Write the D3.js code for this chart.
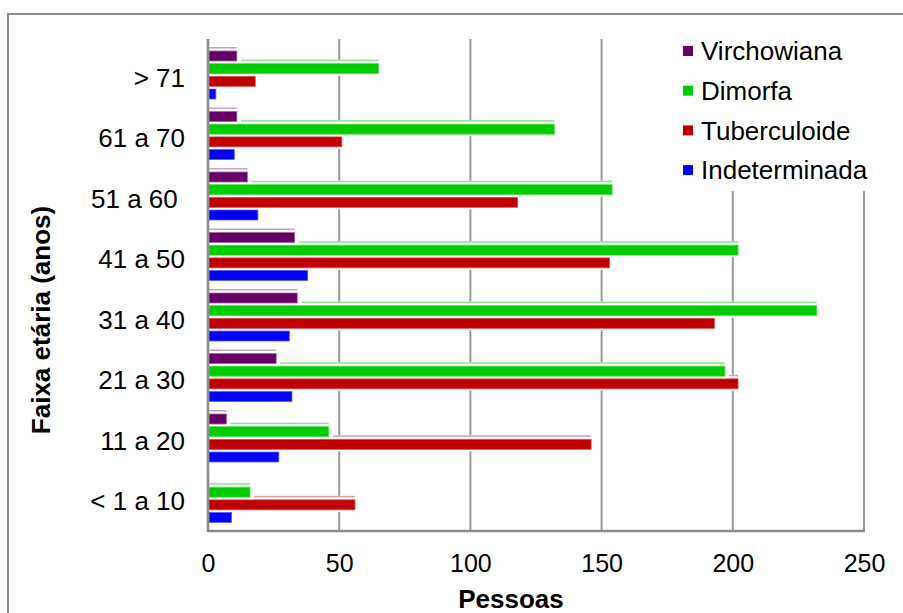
<!DOCTYPE html>
<html>
<head>
<meta charset="utf-8">
<script src="https://cdn.jsdelivr.net/npm/d3@7"></script>
<style>
  html, body { margin: 0; padding: 0; background: #fff; }
  svg { display: block; font-family: "Liberation Sans", Arial, sans-serif; }
</style>
</head>
<body>
<svg id="chart" width="903" height="613"></svg>
<script>
// Age groups, top to bottom
const categories = ["> 71", "61 a 70", "51 a 60\u00a0", "41 a 50", "31 a 40", "21 a 30", "11 a 20", "< 1 a 10"];
// Clinical forms (legend order)
const seriesNames = ["Virchowiana", "Dimorfa", "Tuberculoide", "Indeterminada"];
// Number of people per age group
const virchowiana   = [11, 11, 15, 33, 34, 26, 7, 0];
const dimorfa       = [65, 132, 154, 202, 232, 197, 46, 16];
const tuberculoide  = [18, 51, 118, 153, 193, 202, 146, 56];
const indeterminada = [3, 10, 19, 38, 31, 32, 27, 9];
const xTicks = [0, 50, 100, 150, 200, 250];

const seriesValues = [virchowiana, dimorfa, tuberculoide, indeterminada];
const faceColors = ["#660066", "#00cc00", "#c00000", "#0000ff"];
const edgeColors = ["#9a6a9a", "#55dd55", "#d65050", "#5a5aff"];
const topColors  = ["#c4a4c4", "#8fe08f", "#e09a9a", "#9a9aff"];

const svg = d3.select("#chart");

const plot = { left: 208, right: 864, top: 39, bottom: 531 };
const x = d3.scaleLinear().domain([0, 250]).range([plot.left, plot.right]);
const y = d3.scaleBand().domain(categories).range([45, 529]);
const ySub = d3.scaleBand().domain(seriesNames).range([6, 54]).paddingInner(0.21);
const color = d3.scaleOrdinal().domain(seriesNames).range(faceColors);

// Outer frame
svg.append("rect")
  .attr("x", 8).attr("y", 14).attr("width", 1000).attr("height", 1000)
  .attr("fill", "none").attr("stroke", "#8c8c8c").attr("stroke-width", 2);

// Vertical gridlines (the last one closes the plot on the right)
svg.append("g").selectAll("line")
  .data(xTicks.slice(1))
  .join("line")
  .attr("x1", d => x(d)).attr("x2", d => x(d))
  .attr("y1", plot.top).attr("y2", plot.bottom)
  .attr("stroke", "#9a9a9a").attr("stroke-width", 2);

// Bars: lower bars first so each upper bar's box hides the
// top edge of the bar below it
const rows = [];
categories.forEach((c, i) => {
  seriesNames.forEach((name, s) => {
    rows.push({ cat: c, series: name, s, value: seriesValues[s][i] });
  });
});
rows.sort((a, b) => categories.indexOf(b.cat) - categories.indexOf(a.cat) || b.s - a.s);

const bars = svg.append("g").selectAll("g")
  .data(rows.filter(d => d.value > 0))
  .join("g")
  .attr("transform", d => `translate(0,${y(d.cat) + ySub(d.series)})`);

const bw = ySub.bandwidth();

// white depth box behind each bar
bars.append("rect")
  .attr("x", x(0) + 1)
  .attr("y", -4)
  .attr("width", d => x(d.value) - x(0) + 3)
  .attr("height", bw + 6)
  .attr("fill", "#fff");

// light top edge
bars.append("rect")
  .attr("x", x(0) + 1)
  .attr("y", -4)
  .attr("width", d => x(d.value) - x(0) - 1)
  .attr("height", 1.5)
  .attr("fill", d => topColors[d.s]);

// front face
bars.append("rect")
  .attr("x", x(0) + 1)
  .attr("y", 0)
  .attr("width", d => x(d.value) - x(0) - 1)
  .attr("height", bw)
  .attr("fill", d => color(d.series))
  .attr("stroke", d => edgeColors[d.s])
  .attr("stroke-width", 0.8);

// Plot frame: left and bottom axis lines
const frame = svg.append("g").attr("stroke", "#8c8c8c").attr("stroke-width", 2.5);
frame.append("line").attr("x1", plot.left).attr("x2", plot.left).attr("y1", plot.top).attr("y2", plot.bottom + 1);
frame.append("line").attr("x1", plot.left).attr("x2", plot.right + 1).attr("y1", plot.bottom).attr("y2", plot.bottom);

// X axis labels
const xAxis = svg.append("g")
  .attr("transform", `translate(0,${plot.bottom})`)
  .call(d3.axisBottom(x).tickValues(xTicks).tickSize(0).tickPadding(23).tickFormat(d3.format("d")));
xAxis.select(".domain").remove();
xAxis.selectAll("text").attr("font-size", 25).attr("fill", "#000")
  .attr("font-family", "'Liberation Sans', Arial, sans-serif");

// Y axis labels
const yAxis = svg.append("g")
  .attr("transform", `translate(${plot.left},0)`)
  .call(d3.axisLeft(y).tickSize(0).tickPadding(23));
yAxis.select(".domain").remove();
yAxis.selectAll("text").attr("font-size", 26).attr("fill", "#000").attr("dy", "0.45em")
  .attr("font-family", "'Liberation Sans', Arial, sans-serif");

// Axis titles
svg.append("text")
  .attr("x", 511).attr("y", 608)
  .attr("text-anchor", "middle")
  .attr("font-size", 26).attr("font-weight", "bold")
  .text("Pessoas");

svg.append("text")
  .attr("transform", "translate(50,320) rotate(-90)")
  .attr("text-anchor", "middle")
  .attr("font-size", 26).attr("font-weight", "bold")
  .text("Faixa etária (anos)");

// Legend (white background hides the right plot edge behind it)
const legend = svg.append("g").attr("transform", "translate(683,51)");
legend.append("rect")
  .attr("x", -8).attr("y", -22).attr("width", 200).attr("height", 162)
  .attr("fill", "#fff");
const item = legend.selectAll("g")
  .data(seriesNames)
  .join("g")
  .attr("transform", (d, i) => `translate(0,${i * 39.7})`);
item.append("rect")
  .attr("x", 0).attr("y", -5).attr("width", 10).attr("height", 10)
  .attr("fill", d => color(d));
item.append("text")
  .attr("x", 18).attr("y", 0).attr("dy", "0.35em")
  .attr("font-size", 26).attr("fill", "#000")
  .text(d => d);
</script>
</body>
</html>
